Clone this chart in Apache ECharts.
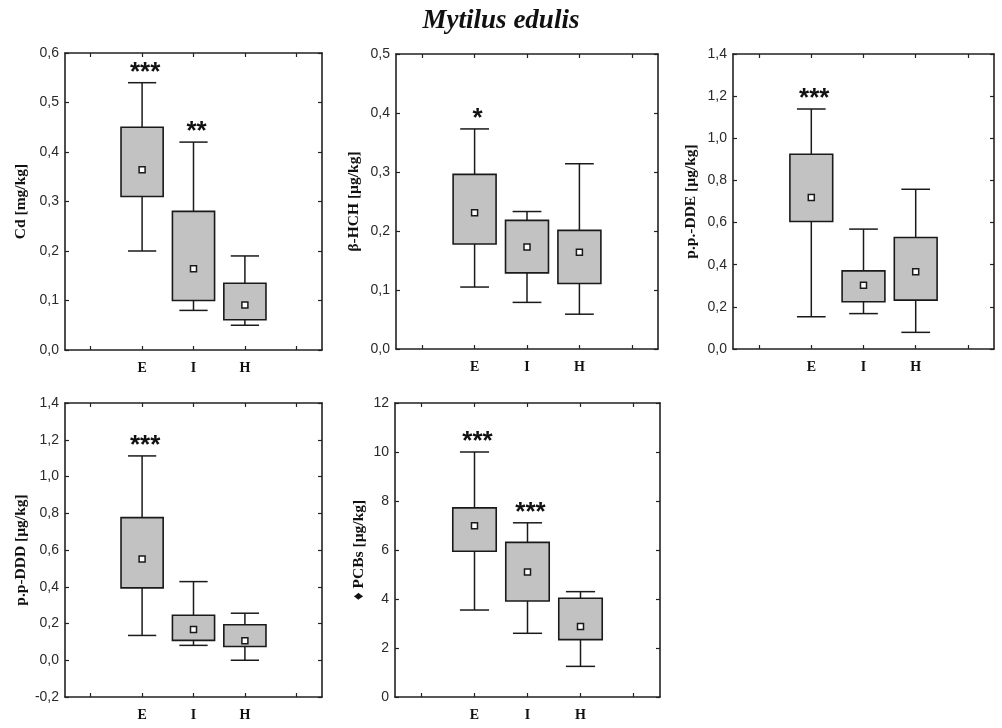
<!DOCTYPE html>
<html>
<head>
<meta charset="utf-8">
<script src="https://cdn.jsdelivr.net/npm/echarts@6/dist/echarts.min.js"></script>
<style>
html,body{margin:0;padding:0;background:#fff;}
#chart{width:1002px;height:728px;}
</style>
</head>
<body>
<div id="chart"></div>
<script>
// ---- data ----
const categories = ['', 'E', 'I', 'H', ''];
// per group (E, I, H): [lower whisker, box bottom, mean, box top, upper whisker]
const cdStats  = [[0.20, 0.31, 0.364, 0.45, 0.54], [0.08, 0.10, 0.164, 0.28, 0.42], [0.05, 0.061, 0.091, 0.135, 0.19]];
const cdStars  = ['***', '**', ''];
const hchStats = [[0.105, 0.178, 0.231, 0.296, 0.373], [0.079, 0.129, 0.173, 0.218, 0.233], [0.059, 0.111, 0.164, 0.201, 0.314]];
const hchStars = ['*', '', ''];
const ddeStats = [[0.153, 0.605, 0.719, 0.924, 1.139], [0.168, 0.224, 0.303, 0.371, 0.569], [0.079, 0.232, 0.367, 0.529, 0.758]];
const ddeStars = ['***', '', ''];
const dddStats = [[0.135, 0.394, 0.551, 0.776, 1.112], [0.081, 0.108, 0.167, 0.245, 0.428], [0.0, 0.075, 0.106, 0.193, 0.256]];
const dddStars = ['***', '', ''];
const pcbStats = [[3.55, 5.95, 6.99, 7.72, 10.0], [2.6, 3.92, 5.10, 6.31, 7.11], [1.25, 2.34, 2.88, 4.03, 4.30]];
const pcbStars = ['***', '***', ''];

const yNames = ['Cd [mg/kg]', 'β-HCH [µg/kg]', 'p.p.-DDE [µg/kg]', 'p.p-DDD [µg/kg]', '♦ PCBs [µg/kg]'];
const yMin  = [0, 0, 0, -0.2, 0];
const yMax  = [0.6, 0.5, 1.4, 1.4, 12];
const yStep = [0.1, 0.1, 0.2, 0.2, 2];
const yDecimals = [1, 1, 1, 1, 0];
const title = 'Mytilus edulis';

const panelStats = [cdStats, hchStats, ddeStats, dddStats, pcbStats];
const panelStars = [cdStars, hchStars, ddeStars, dddStars, pcbStars];

// ---- layout / style ----
const grids = [
  {left: 65,  top: 53,  width: 257, height: 297},
  {left: 396, top: 54,  width: 262, height: 295},
  {left: 733, top: 54,  width: 261, height: 295},
  {left: 65,  top: 403, width: 257, height: 294},
  {left: 395, top: 403, width: 265, height: 294}
];
const nameGaps = [36, 34, 34, 36, 28];
const frameColor = '#222';
const ink = '#1a1a1a';
const boxFill = '#c2c2c2';

const tickStyle = {show: true, inside: true, length: 4, alignWithLabel: true, interval: 0, lineStyle: {color: frameColor, width: 1.2}};
const lineStyle = {show: true, onZero: false, lineStyle: {color: frameColor, width: 1.6}};

const xAxes = [], yAxes = [], series = [];
grids.forEach((g, p) => {
  xAxes.push({
    type: 'category', gridIndex: p, data: categories, position: 'bottom', boundaryGap: true,
    axisLine: lineStyle, axisTick: tickStyle,
    axisLabel: {interval: 0, margin: 11, fontFamily: 'Liberation Serif', fontWeight: 'bold', fontSize: 14, color: '#111'},
    splitLine: {show: false}
  });
  xAxes.push({
    type: 'category', gridIndex: p, data: categories, position: 'top', boundaryGap: true,
    axisLine: lineStyle, axisTick: tickStyle, axisLabel: {show: false}, splitLine: {show: false}
  });
  const dec = yDecimals[p];
  yAxes.push({
    type: 'value', gridIndex: p, position: 'left', min: yMin[p], max: yMax[p], interval: yStep[p],
    axisLine: lineStyle, axisTick: {show: true, inside: true, length: 4, lineStyle: {color: frameColor, width: 1.2}},
    axisLabel: {margin: 6, fontFamily: 'Liberation Sans', fontSize: 14, color: '#2a2a2a',
      formatter: v => Number(v).toFixed(dec).replace('.', ',')},
    splitLine: {show: false},
    name: yNames[p], nameLocation: 'middle', nameGap: nameGaps[p], nameRotate: 90,
    nameTextStyle: {fontFamily: 'Liberation Serif', fontWeight: 'bold', fontSize: 15.5, color: '#111'}
  });
  yAxes.push({
    type: 'value', gridIndex: p, position: 'right', min: yMin[p], max: yMax[p], interval: yStep[p],
    axisLine: lineStyle, axisTick: {show: true, inside: true, length: 4, lineStyle: {color: frameColor, width: 1.2}},
    axisLabel: {show: false}, splitLine: {show: false}
  });

  const stats = panelStats[p];
  const stars = panelStars[p];
  series.push({
    type: 'custom',
    xAxisIndex: 2 * p, yAxisIndex: 2 * p,
    encode: {x: 0, y: [1, 2, 3, 4, 5]},
    data: stats.map((s, i) => [categories.indexOf(['E', 'I', 'H'][i]), ...s]),
    renderItem: function (params, api) {
      const cat = api.value(0);
      const lo = api.coord([cat, api.value(1)]);
      const q1 = api.coord([cat, api.value(2)]);
      const mn = api.coord([cat, api.value(3)]);
      const q3 = api.coord([cat, api.value(4)]);
      const hi = api.coord([cat, api.value(5)]);
      const band = api.size([1, 0])[0];
      const bw = band * 0.82, cw = band * 0.55;
      const x = lo[0];
      const ls = {stroke: ink, lineWidth: 1.5};
      const children = [
        {type: 'line', shape: {x1: x, y1: hi[1], x2: x, y2: q3[1]}, style: ls},
        {type: 'line', shape: {x1: x, y1: q1[1], x2: x, y2: lo[1]}, style: ls},
        {type: 'line', shape: {x1: x - cw / 2, y1: hi[1], x2: x + cw / 2, y2: hi[1]}, style: ls},
        {type: 'line', shape: {x1: x - cw / 2, y1: lo[1], x2: x + cw / 2, y2: lo[1]}, style: ls},
        {type: 'rect', shape: {x: x - bw / 2, y: q3[1], width: bw, height: q1[1] - q3[1]},
          style: {fill: boxFill, stroke: ink, lineWidth: 1.6}},
        {type: 'rect', shape: {x: x - 3, y: mn[1] - 3, width: 6, height: 6},
          style: {fill: '#fff', stroke: ink, lineWidth: 1.5}}
      ];
      const s = stars[params.dataIndex];
      if (s) {
        children.push({type: 'text', x: x + 3, y: hi[1] - 10,
          style: {text: s, fill: '#111', font: 'bold 26px "Liberation Sans"', align: 'center', verticalAlign: 'middle'}});
      }
      return {type: 'group', children: children};
    }
  });
});

const chart = echarts.init(document.getElementById('chart'), null, {renderer: 'canvas'});
chart.setOption({
  animation: false,
  backgroundColor: '#fff',
  title: {text: title, left: 'center', top: 3,
    textStyle: {fontFamily: 'Liberation Serif', fontStyle: 'italic', fontWeight: 'bold', fontSize: 27, color: '#111'}},
  grid: grids.map(g => Object.assign({containLabel: false}, g)),
  xAxis: xAxes,
  yAxis: yAxes,
  series: series
});
</script>
</body>
</html>
